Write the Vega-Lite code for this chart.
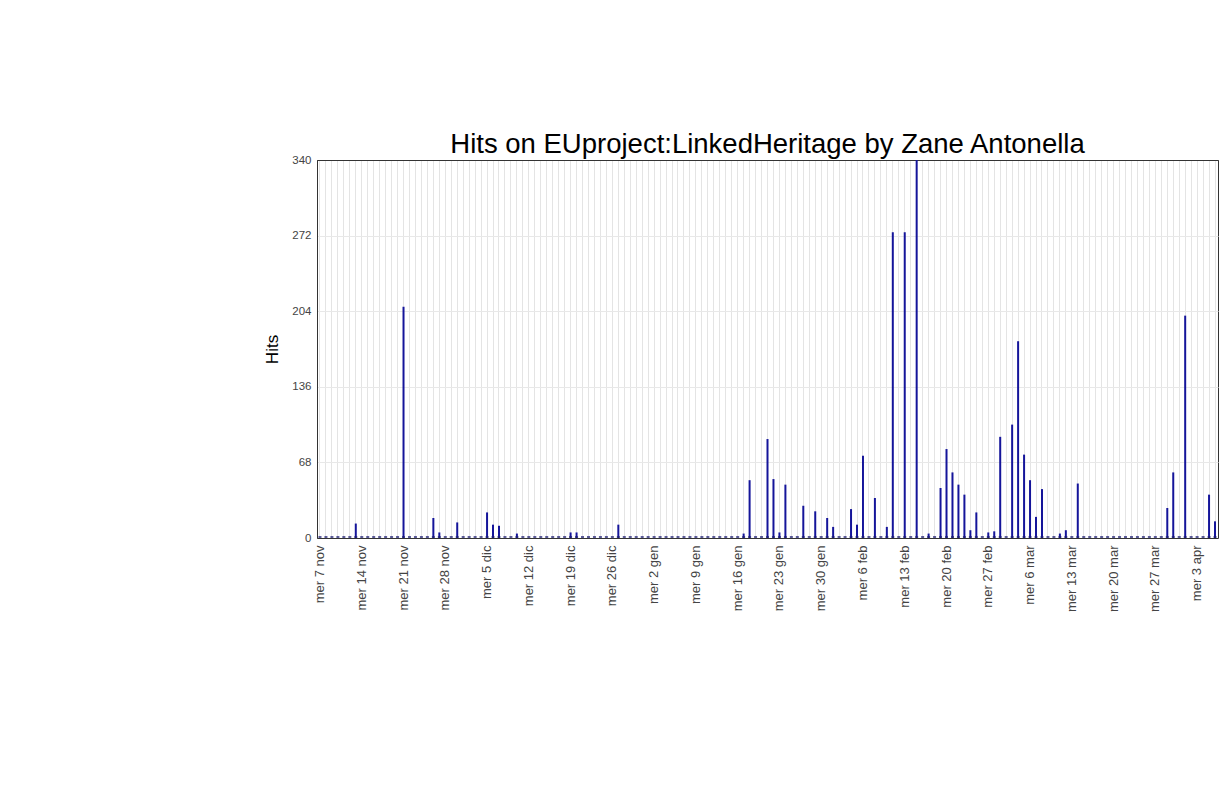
{
  "$schema": "https://vega.github.io/schema/vega-lite/v6.json",
  "width": 901,
  "height": 378,
  "padding": {"left": 263, "top": 130, "right": 5, "bottom": 5},
  "background": "white",
  "title": {
    "text": "Hits on EUproject:LinkedHeritage by Zane Antonella",
    "font": "Liberation Sans",
    "fontSize": 27.5,
    "fontWeight": "normal",
    "color": "#000000",
    "anchor": "middle",
    "offset": -4
  },
  "config": {
    "view": {"stroke": "#333333", "strokeWidth": 1},
    "axis": {"labelFont": "Liberation Sans", "titleFont": "Liberation Sans"}
  },
  "data": {
    "values": [
      {"date": "2012-11-07", "hits": 0}, {"date": "2012-11-08", "hits": 0}, {"date": "2012-11-09", "hits": 0}, {"date": "2012-11-10", "hits": 0}, {"date": "2012-11-11", "hits": 0}, {"date": "2012-11-12", "hits": 0}, {"date": "2012-11-13", "hits": 13}, {"date": "2012-11-14", "hits": 0}, {"date": "2012-11-15", "hits": 0}, {"date": "2012-11-16", "hits": 0}, {"date": "2012-11-17", "hits": 0}, {"date": "2012-11-18", "hits": 0}, {"date": "2012-11-19", "hits": 0}, {"date": "2012-11-20", "hits": 0}, {"date": "2012-11-21", "hits": 208}, {"date": "2012-11-22", "hits": 0}, {"date": "2012-11-23", "hits": 0}, {"date": "2012-11-24", "hits": 0}, {"date": "2012-11-25", "hits": 0}, {"date": "2012-11-26", "hits": 18}, {"date": "2012-11-27", "hits": 5}, {"date": "2012-11-28", "hits": 0}, {"date": "2012-11-29", "hits": 0}, {"date": "2012-11-30", "hits": 14},
      {"date": "2012-12-01", "hits": 0}, {"date": "2012-12-02", "hits": 0}, {"date": "2012-12-03", "hits": 0}, {"date": "2012-12-04", "hits": 0}, {"date": "2012-12-05", "hits": 23}, {"date": "2012-12-06", "hits": 12}, {"date": "2012-12-07", "hits": 11}, {"date": "2012-12-08", "hits": 0}, {"date": "2012-12-09", "hits": 0}, {"date": "2012-12-10", "hits": 4}, {"date": "2012-12-11", "hits": 0}, {"date": "2012-12-12", "hits": 0}, {"date": "2012-12-13", "hits": 0}, {"date": "2012-12-14", "hits": 0}, {"date": "2012-12-15", "hits": 0}, {"date": "2012-12-16", "hits": 0}, {"date": "2012-12-17", "hits": 0}, {"date": "2012-12-18", "hits": 0}, {"date": "2012-12-19", "hits": 5}, {"date": "2012-12-20", "hits": 5}, {"date": "2012-12-21", "hits": 0}, {"date": "2012-12-22", "hits": 0}, {"date": "2012-12-23", "hits": 0}, {"date": "2012-12-24", "hits": 0}, {"date": "2012-12-25", "hits": 0}, {"date": "2012-12-26", "hits": 0}, {"date": "2012-12-27", "hits": 12}, {"date": "2012-12-28", "hits": 0}, {"date": "2012-12-29", "hits": 0}, {"date": "2012-12-30", "hits": 0}, {"date": "2012-12-31", "hits": 0},
      {"date": "2013-01-01", "hits": 0}, {"date": "2013-01-02", "hits": 0}, {"date": "2013-01-03", "hits": 0}, {"date": "2013-01-04", "hits": 0}, {"date": "2013-01-05", "hits": 0}, {"date": "2013-01-06", "hits": 0}, {"date": "2013-01-07", "hits": 0}, {"date": "2013-01-08", "hits": 0}, {"date": "2013-01-09", "hits": 0}, {"date": "2013-01-10", "hits": 0}, {"date": "2013-01-11", "hits": 0}, {"date": "2013-01-12", "hits": 0}, {"date": "2013-01-13", "hits": 0}, {"date": "2013-01-14", "hits": 0}, {"date": "2013-01-15", "hits": 0}, {"date": "2013-01-16", "hits": 0}, {"date": "2013-01-17", "hits": 4}, {"date": "2013-01-18", "hits": 52}, {"date": "2013-01-19", "hits": 0}, {"date": "2013-01-20", "hits": 0}, {"date": "2013-01-21", "hits": 89}, {"date": "2013-01-22", "hits": 53}, {"date": "2013-01-23", "hits": 5}, {"date": "2013-01-24", "hits": 48}, {"date": "2013-01-25", "hits": 0}, {"date": "2013-01-26", "hits": 0}, {"date": "2013-01-27", "hits": 29}, {"date": "2013-01-28", "hits": 0}, {"date": "2013-01-29", "hits": 24}, {"date": "2013-01-30", "hits": 0}, {"date": "2013-01-31", "hits": 18},
      {"date": "2013-02-01", "hits": 10}, {"date": "2013-02-02", "hits": 0}, {"date": "2013-02-03", "hits": 0}, {"date": "2013-02-04", "hits": 26}, {"date": "2013-02-05", "hits": 12}, {"date": "2013-02-06", "hits": 74}, {"date": "2013-02-07", "hits": 0}, {"date": "2013-02-08", "hits": 36}, {"date": "2013-02-09", "hits": 0}, {"date": "2013-02-10", "hits": 10}, {"date": "2013-02-11", "hits": 275}, {"date": "2013-02-12", "hits": 0}, {"date": "2013-02-13", "hits": 275}, {"date": "2013-02-14", "hits": 0}, {"date": "2013-02-15", "hits": 340}, {"date": "2013-02-16", "hits": 0}, {"date": "2013-02-17", "hits": 4}, {"date": "2013-02-18", "hits": 0}, {"date": "2013-02-19", "hits": 45}, {"date": "2013-02-20", "hits": 80}, {"date": "2013-02-21", "hits": 59}, {"date": "2013-02-22", "hits": 48}, {"date": "2013-02-23", "hits": 39}, {"date": "2013-02-24", "hits": 7}, {"date": "2013-02-25", "hits": 23}, {"date": "2013-02-26", "hits": 0}, {"date": "2013-02-27", "hits": 5}, {"date": "2013-02-28", "hits": 6},
      {"date": "2013-03-01", "hits": 91}, {"date": "2013-03-02", "hits": 0}, {"date": "2013-03-03", "hits": 102}, {"date": "2013-03-04", "hits": 177}, {"date": "2013-03-05", "hits": 75}, {"date": "2013-03-06", "hits": 52}, {"date": "2013-03-07", "hits": 19}, {"date": "2013-03-08", "hits": 44}, {"date": "2013-03-09", "hits": 0}, {"date": "2013-03-10", "hits": 0}, {"date": "2013-03-11", "hits": 4}, {"date": "2013-03-12", "hits": 7}, {"date": "2013-03-13", "hits": 0}, {"date": "2013-03-14", "hits": 49}, {"date": "2013-03-15", "hits": 0}, {"date": "2013-03-16", "hits": 0}, {"date": "2013-03-17", "hits": 0}, {"date": "2013-03-18", "hits": 0}, {"date": "2013-03-19", "hits": 0}, {"date": "2013-03-20", "hits": 0}, {"date": "2013-03-21", "hits": 0}, {"date": "2013-03-22", "hits": 0}, {"date": "2013-03-23", "hits": 0}, {"date": "2013-03-24", "hits": 0}, {"date": "2013-03-25", "hits": 0}, {"date": "2013-03-26", "hits": 0}, {"date": "2013-03-27", "hits": 0}, {"date": "2013-03-28", "hits": 0}, {"date": "2013-03-29", "hits": 27}, {"date": "2013-03-30", "hits": 59}, {"date": "2013-03-31", "hits": 0},
      {"date": "2013-04-01", "hits": 200}, {"date": "2013-04-02", "hits": 0}, {"date": "2013-04-03", "hits": 0}, {"date": "2013-04-04", "hits": 0}, {"date": "2013-04-05", "hits": 39}, {"date": "2013-04-06", "hits": 15}
    ]
  },
  "encoding": {
    "x": {
      "field": "date",
      "type": "ordinal",
      "sort": null,
      "scale": {"paddingInner": 0, "paddingOuter": 0},
      "axis": {
        "title": null,
        "labelAngle": -90,
        "labelFontSize": 13,
        "labelColor": "#444444",
        "labelPadding": 7,
        "labelOverlap": false,
        "ticks": false,
        "domain": true,
        "domainColor": "#333333",
        "grid": true,
        "gridColor": "#e4e4e4",
        "gridWidth": 1,
        "bandPosition": 0.5,
        "labelExpr": "utcday(toDate(datum.value)) == 3 ? 'mer ' + utcdate(toDate(datum.value)) + ' ' + ['gen','feb','mar','apr','mag','giu','lug','ago','set','ott','nov','dic'][utcmonth(toDate(datum.value))] : ''"
      }
    }
  },
  "layer": [
    {
      "mark": {"type": "bar", "width": 2, "color": "#15159a"},
      "encoding": {
        "y": {
          "field": "hits",
          "type": "quantitative",
          "scale": {"domain": [0, 340], "nice": false},
          "axis": {
            "title": "Hits",
            "titleFontSize": 17,
            "titleFontWeight": "normal",
            "titleColor": "#000000",
            "titlePadding": 10,
            "values": [0, 68, 136, 204, 272, 340],
            "labelFontSize": 11.5,
            "labelColor": "#444444",
            "labelPadding": 6,
            "ticks": false,
            "domain": true,
            "domainColor": "#333333",
            "grid": true,
            "gridColor": {"condition": {"test": "datum.value == 340", "value": "#333333"}, "value": "#e8e8e8"}
          }
        }
      }
    },
    {
      "mark": {"type": "tick", "size": 3, "thickness": 2, "yOffset": -1, "color": "#1a1a70"},
      "encoding": {
        "y": {"datum": 0, "type": "quantitative"}
      }
    }
  ]
}
